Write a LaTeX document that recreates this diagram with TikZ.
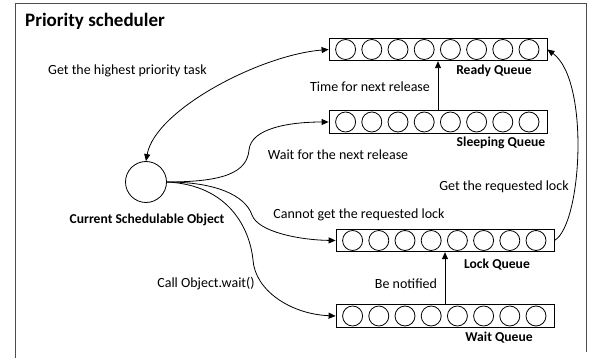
\documentclass[tikz,border=0pt]{standalone}
\usepackage{fontspec}
\setmainfont{Carlito}
\usetikzlibrary{arrows.meta}
\begin{document}
\begin{tikzpicture}[x=1pt,y=-1pt,
  lbl/.style={font=\fontsize{14}{16}\selectfont, inner sep=0pt},
  qlbl/.style={font=\fontsize{13.6}{16}\selectfont\bfseries, inner sep=0pt},
  queue/.style={draw, line width=0.8pt, minimum width=218pt, minimum height=22.5pt, inner sep=0pt},
  conn/.style={line width=0.8pt, -{Triangle[length=7pt,width=6pt]}},
  biconn/.style={line width=0.8pt, {Triangle[length=7pt,width=6pt]}-{Triangle[length=7pt,width=6pt]}},
]
\useasboundingbox (0,0) rectangle (594,358);
\draw[line width=0.8pt, black!70] (15,358) -- (15,3) -- (586,3) -- (586,352);
\node[anchor=base west, inner sep=0pt, font=\fontsize{19}{21}\selectfont\bfseries] (title) at (25,27) {Priority scheduler};

% queues
\node[queue] (ready) at (438,49.5) {};
\node[queue] (sleeping) at (438,122) {};
\node[queue] (lock) at (445,240.5) {};
\node[queue] (wait) at (445,316) {};
\foreach \q in {ready,sleeping,lock,wait}
  \foreach \i in {0,...,7}
    \draw[line width=0.8pt] ([xshift=17pt+\i*26.2pt]\q.west) circle (10pt);

% current object
\node[circle, draw, line width=0.8pt, minimum size=41pt, inner sep=0pt] (obj) at (146,182) {};

% labels
\node[lbl] (lget) at (127.5,71) {Get the highest priority task};
\node[lbl] (ltime) at (370,87) {Time for next release};
\node[qlbl] (lready) at (494,71) {Ready Queue};
\node[qlbl] (lsleep) at (501,143) {Sleeping Queue};
\node[lbl] (lwaitnext) at (338,155) {Wait for the next release};
\node[lbl] (lgetlock) at (504,187) {Get the requested lock};
\node[lbl] (lcannot) at (359,215) {Cannot get the requested lock};
\node[qlbl] (llock) at (497,265) {Lock Queue};
\node[lbl] (lnotified) at (406,284) {Be notified};
\node[lbl] (lcall) at (206,284) {Call Object.wait()};
\node[qlbl] (lwaitq) at (499,338) {Wait Queue};
\node[qlbl] (lobj) at (147,220) {Current Schedulable Object};

% connectors
\draw[biconn] (ready.west) .. controls (260,55) and (155,110) .. (obj.north);
\draw[conn] (obj.east) .. controls (225,182) and (247,172) .. (249,150) .. controls (251,128) and (290,122) .. (sleeping.west);
\draw[conn] (obj.east) .. controls (215,182) and (245,195) .. (252,215) .. controls (258,232) and (300,240) .. (lock.west);
\draw[conn] (obj.east) .. controls (230,185) and (250,230) .. (253,260) .. controls (255,290) and (290,314) .. (wait.west);
\draw[conn] (lock.east) .. controls (582,225) and (590,80) .. (ready.east);
\draw[conn] (sleeping.north) -- (ready.south);
\draw[conn] (wait.north) -- (lock.south);
\end{tikzpicture}
\end{document}
